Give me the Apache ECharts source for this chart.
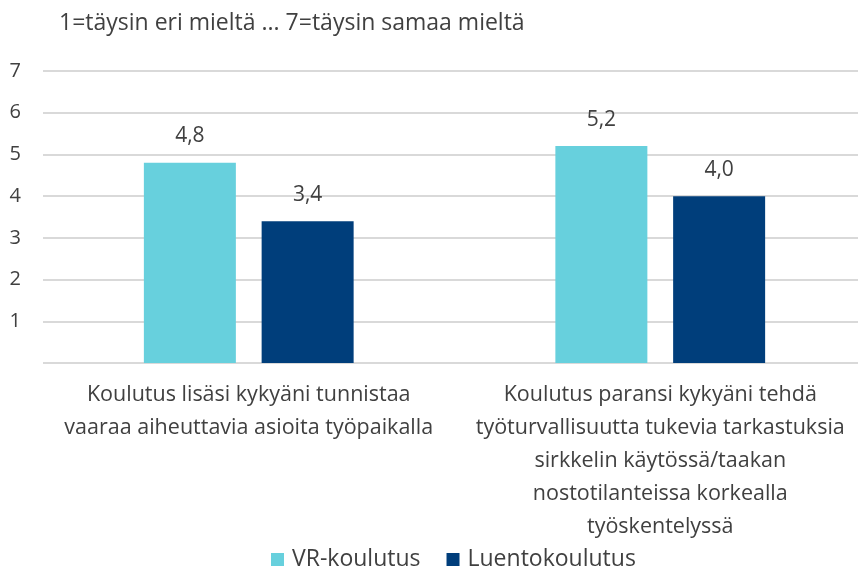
<!DOCTYPE html>
<html>
<head>
<meta charset="utf-8">
<script src="https://cdn.jsdelivr.net/npm/echarts@6/dist/echarts.min.js"></script>
<style>
    html, body { margin: 0; padding: 0; background: #fff; overflow: hidden; }
    #chart { width: 858px; height: 572px; }
</style>
</head>
<body>
<div id="chart"></div>
<script>
const categories = [
    "Koulutus lisäsi kykyäni tunnistaa\nvaaraa aiheuttavia asioita työpaikalla",
    "Koulutus paransi kykyäni tehdä\ntyöturvallisuutta tukevia tarkastuksia\nsirkkelin käytössä/taakan\nnostotilanteissa korkealla\ntyöskentelyssä",
]
const vrValues = [4.8, 5.2]
const luentoValues = [3.4, 4.0]
const seriesNames = ["VR-koulutus", "Luentokoulutus"]
const yTicks = [0, 1, 2, 3, 4, 5, 6, 7]

const font = "'Open Sans', 'Noto Sans', sans-serif"
const textColor = "#404040"

const myChart = echarts.init(document.getElementById("chart"), null, { renderer: "canvas" })

function labelFmt(p) {
    return p.value.toFixed(1).replace(".", ",")
}

myChart.setOption({
    animation: false,
    title: {
        text: "1=täysin eri mieltä ... 7=täysin samaa mieltä",
        left: 54,
        top: 7,
        textStyle: {
            fontFamily: font,
            fontSize: 23,
            fontWeight: "normal",
            color: textColor,
        },
    },
    legend: {
        data: seriesNames,
        bottom: -4,
        left: 266,
        icon: "rect",
        itemWidth: 13,
        itemHeight: 13,
        itemGap: 26,
        textStyle: {
            fontFamily: font,
            fontSize: 23,
            color: textColor,
            padding: [0, 0, 0, 3],
        },
    },
    grid: {
        left: 43,
        width: 823,
        top: 71,
        bottom: 209,
        containLabel: false,
        outerBoundsMode: "none",
    },
    xAxis: {
        type: "category",
        data: categories,
        axisLine: { show: false },
        axisTick: { show: false },
        axisLabel: {
            interval: 0,
            margin: 15,
            fontFamily: font,
            fontSize: 21.5,
            lineHeight: 33,
            color: textColor,
        },
    },
    yAxis: {
        type: "value",
        min: yTicks[0],
        max: yTicks[yTicks.length - 1],
        interval: 1,
        axisLine: { show: false },
        axisTick: { show: false },
        axisLabel: {
            margin: 22,
            fontFamily: font,
            fontSize: 20,
            color: textColor,
            formatter: function (v) {
                return v === 0 ? "" : String(v)
            },
        },
        splitLine: {
            lineStyle: { color: "#d9d9d9", width: 2 },
        },
    },
    series: [
        {
            name: seriesNames[0],
            type: "bar",
            data: vrValues,
            barWidth: 92,
            barGap: "28%",
            itemStyle: { color: "#67D0DD" },
            label: {
                show: true,
                position: "top",
                distance: 16,
                fontFamily: font,
                fontSize: 21,
                color: textColor,
                formatter: labelFmt,
            },
        },
        {
            name: seriesNames[1],
            type: "bar",
            data: luentoValues,
            barWidth: 92,
            barGap: "28%",
            itemStyle: { color: "#003E7B" },
            label: {
                show: true,
                position: "top",
                distance: 16,
                fontFamily: font,
                fontSize: 21,
                color: textColor,
                formatter: labelFmt,
            },
        },
    ],
})
window.addEventListener("resize", function () {
    myChart.resize()
})
</script>
</body>
</html>
